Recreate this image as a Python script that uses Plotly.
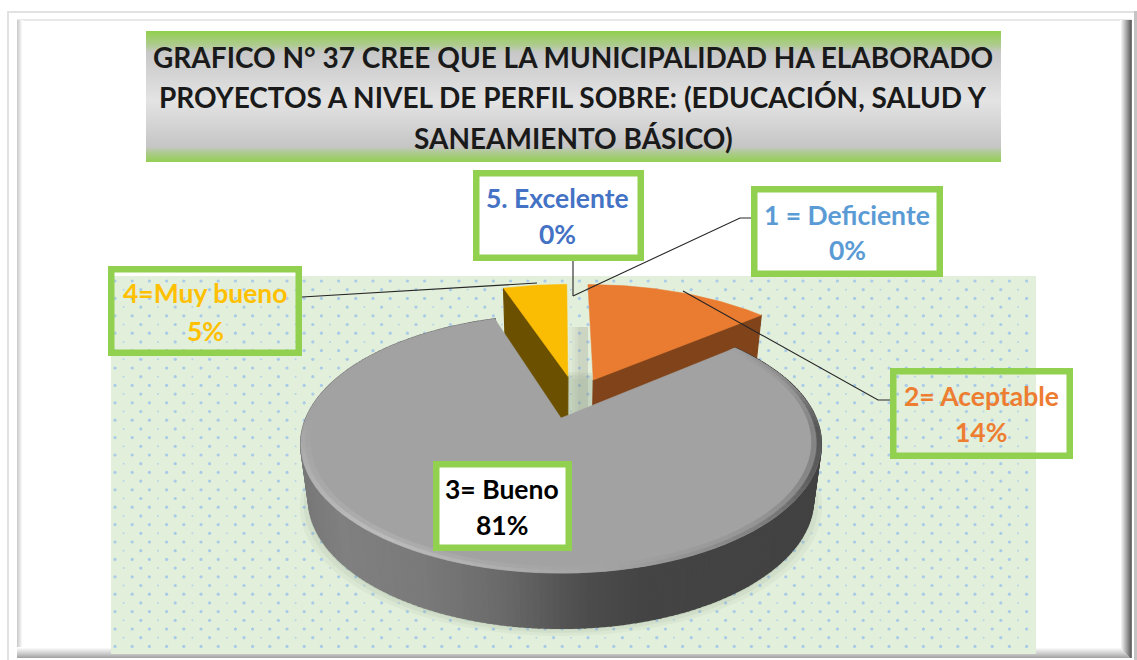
import numpy as np
import plotly.graph_objects as go

# ---------- data ----------
categories = ["1 = Deficiente", "2= Aceptable", "3= Bueno", "4=Muy bueno", "5. Excelente"]
percent_values = [0, 14, 81, 5, 0]
title_lines = [
    "GRAFICO N° 37 CREE QUE LA MUNICIPALIDAD HA ELABORADO",
    "PROYECTOS A NIVEL DE PERFIL SOBRE: (EDUCACIÓN, SALUD Y",
    "SANEAMIENTO BÁSICO)",
]
label_colors = ["#5b9bd5", "#ed7d31", "#000000", "#ffc000", "#4472c4"]
slice_colors = ["#5b9bd5", "#e97c30", "#a2a2a2", "#fbbc04", "#4472c4"]
wall_colors = ["#2e5f8a", "#80431a", "#555555", "#6b5000", "#24406f"]

W, H = 1137, 660
FONT = "Lato"
GREEN = "#92d050"

# ---------- projection of the pie plane onto the page ----------
CX, CY, RX, RY, PERSP = 561.0, 418.0, 254.7, 123.8, 0.2016
DEPTH, BOTTOM_SCALE = 55.0, 0.97
# per slice: planar shift (right, away) and radius scale
explode = {1: (0.135, 0.327, 1.05), 2: (0.0, 0.0, 1.0), 3: (0.029, 0.36, 1.02)}


def project(u, v):
    w = 1 + PERSP * np.asarray(v, dtype=float)
    return CX + RX * np.asarray(u) / w, CY - RY * np.asarray(v) / w


def rim(theta, ex=(0, 0, 1), rad=1.0):
    t = np.radians(theta)
    return project(ex[0] + ex[2] * rad * np.sin(t), ex[1] + ex[2] * rad * np.cos(t))


def lower(x, y):
    return CX + (np.asarray(x) - CX) * BOTTOM_SCALE, np.asarray(y) + DEPTH


total = sum(percent_values)
spans = {}
start = 0.0
for i, val in enumerate(percent_values):
    spans[i] = (start, start + 360.0 * val / total)
    start = spans[i][1]

fig = go.Figure()


def poly(x, y, color, lw=1.2):
    fig.add_trace(go.Scatter(x=list(x), y=list(y), mode="lines", fill="toself", fillcolor=color,
                             line=dict(color=color, width=lw), hoverinfo="skip", showlegend=False))


# ---------- shapes: frame, panel, title band ----------
shapes = []


def rect(x0, y0, x1, y1, color, layer="below", line=None, lw=0):
    shapes.append(dict(type="rect", xref="x", yref="y", x0=x0, y0=y0, x1=x1, y1=y1, fillcolor=color,
                       line=dict(color=line or color, width=lw), layer=layer))


def grey(v):
    v = int(round(v))
    return f"rgb({v},{v},{v})"


# outer frame
rect(7, 11, 1136, 13, "#e2e2e2")
rect(7, 11, 9, 660, "#e2e2e2")
rect(1134, 11, 1137, 660, "#c4c4c4")
# inner bevel
rect(17, 19, 1132, 21, "#e9e9e9")
for k in range(6):
    rect(17 + k, 20, 18 + k, 655, grey(np.interp(k, [0, 5], [205, 255])))
for k in range(12):
    rect(1120 + k, 20, 1121 + k, 658, grey(np.interp(k, [0, 7, 10, 11], [255, 150, 100, 120])))
for k in range(11):
    rect(17, 647 + k, 1120 + k, 648 + k, grey(np.interp(k, [0, 6, 10], [255, 205, 165])))

# dotted panel
rect(111, 276, 1036, 654, "#e2efda")
# title band
for yy in range(31, 162):
    c = np.interp(yy, [31, 45, 52, 100, 146, 152, 162],
                  [0, 0.55, 1, 1, 1, 0.55, 0])
    g = np.interp(yy, [31, 52, 100, 146, 162], [200, 200, 228, 198, 198])
    col = np.array([146, 208, 80]) * (1 - c) + g * c
    rect(146, yy, 1001, yy + 1, "rgb(%d,%d,%d)" % tuple(col))

# panel dots, drawn as markers on the page axes
big_x, big_y, small_x, small_y = [], [], [], []
for r, yy in enumerate(np.arange(281, 654, 8.7)):
    off = 0 if r % 2 == 0 else 8.6
    xs = np.arange(115 + off, 1034, 17.2)
    if r % 2 == 0:
        big_x += list(xs); big_y += [yy] * len(xs)
    else:
        small_x += list(xs[::2]); small_y += [yy] * len(xs[::2])
        big_x += list(xs[1::2]); big_y += [yy] * len(xs[1::2])
fig.add_trace(go.Scatter(x=big_x, y=big_y, mode="markers", hoverinfo="skip", showlegend=False,
                         marker=dict(size=3.2, color="#a9cbe8", line=dict(width=0))))
fig.add_trace(go.Scatter(x=small_x, y=small_y, mode="markers", hoverinfo="skip", showlegend=False,
                         marker=dict(size=2, color="#b7d3ea", line=dict(width=0))))

# ---------- the pie, computed from percent_values ----------
gray_span = spans[2]

# soft shadow under the pie
ang = np.linspace(0, 360, 181)
for grow, dy, alpha in [(1.035, 8, 0.06), (1.02, 5, 0.08), (1.005, 2, 0.10)]:
    sx, sy = rim(ang, rad=1.0)
    sx, sy = lower(sx, sy)
    poly(CX + (sx - CX) * grow, sy + dy, f"rgba(110,130,100,{alpha})", lw=0)

# shadow in the gap between the raised slices
for k, a in enumerate([0.05, 0.07, 0.09, 0.11]):
    poly([569 + k * 3, 588, 588, 569 + k * 3, 569 + k * 3], [327, 327, 412, 412, 327],
         f"rgba(150,155,140,{a})", lw=0)

# raised slices: cut walls, then top faces
for idx in (3, 1):
    if percent_values[idx] == 0:
        continue
    a0, a1 = spans[idx]
    ex = explode[idx]
    ax, ay = project(ex[0], ex[1])
    wall_angle = a1 if idx == 1 else a0
    ex_x, ex_y = rim(np.array([wall_angle]), ex)
    lx, ly = lower(ex_x, ex_y)
    alx, aly = lower(ax, ay)
    poly([ax, ex_x[0], lx[0], float(alx), ax], [ay, ex_y[0], ly[0], float(aly), ay], wall_colors[idx])
    th = np.linspace(a0, a1, 40)
    rx, ry = rim(th, ex)
    poly([ax, *rx, ax], [ay, *ry, ay], slice_colors[idx], lw=0.5)

# large slice: side strips with a left-to-right shade
side_angles = np.linspace(gray_span[0], gray_span[1], 241)
sx_t, sy_t = rim(side_angles)
sx_b, sy_b = lower(sx_t, sy_t)
for i in range(len(side_angles) - 1):
    xm = (sx_t[i] + sx_t[i + 1]) / 2
    shade = np.interp(xm, [300, 340, 420, 500, 580, 640, 820], [120, 128, 122, 106, 78, 68, 66])
    poly([sx_t[i], sx_t[i + 1], sx_b[i + 1], sx_b[i], sx_t[i]],
         [sy_t[i], sy_t[i + 1], sy_b[i + 1], sy_b[i], sy_t[i]], grey(shade), lw=2)

# large slice: top face
edge_angles = np.linspace(gray_span[0], gray_span[1], 121)
tx, ty = rim(edge_angles)
ax, ay = project(0.0, 0.0)
poly([ax, *tx, ax], [ay, *ty, ay], slice_colors[2], lw=0.5)


# large slice: bevel along the rim, two soft steps
def bevel(am):
    return np.interp(am, [50, 75, 95, 115, 140, 170, 215, 250, 270, 342],
                     [162, 135, 85, 92, 130, 162, 188, 175, 162, 162])


for rad_in, rad_out, mix in [(0.965, 0.985, 0.4), (0.985, 1.0, 1.0)]:
    ix, iy = rim(edge_angles, rad=rad_in)
    ox, oy = rim(edge_angles, rad=rad_out)
    for i in range(len(edge_angles) - 1):
        am = (edge_angles[i] + edge_angles[i + 1]) / 2
        shade = 162 + (bevel(am) - 162) * mix
        poly([ox[i], ox[i + 1], ix[i + 1], ix[i], ox[i]],
             [oy[i], oy[i + 1], iy[i + 1], iy[i], oy[i]], grey(shade), lw=0.6)

# ---------- leader lines ----------
leaders = [
    ([302, 537], [297, 283]),
    ([573, 573], [261, 296]),
    ([751, 740, 573], [218, 218, 296]),
    ([890, 878, 683], [400, 400, 291]),
]
for lx_, ly_ in leaders:
    fig.add_trace(go.Scatter(x=lx_, y=ly_, mode="lines", line=dict(color="#262626", width=1.1),
                             hoverinfo="skip", showlegend=False))

# ---------- label boxes ----------
# index -> outer box (x0, y0, x1, y1), white fill?, text centre x, line centres y
boxes = {
    0: (751, 186, 943, 277, True, 847, 215, 250),
    1: (890, 368, 1073, 459, False, 981, 396, 432),
    2: (433, 461, 572, 551, True, 502, 489, 525),
    3: (108, 266, 302, 356, False, 205, 293, 331),
    4: (473, 170, 644, 261, True, 557, 198, 234),
}
BORDER = 6.5
annotations = []
for i, (x0, y0, x1, y1, filled, tx_c, y1_c, y2_c) in boxes.items():
    shapes.append(dict(type="rect", xref="x", yref="y", x0=x0 + BORDER / 2, y0=y0 + BORDER / 2,
                       x1=x1 - BORDER / 2, y1=y1 - BORDER / 2,
                       fillcolor="#ffffff" if filled else "rgba(0,0,0,0)",
                       line=dict(color=GREEN, width=BORDER), layer="above"))
    for txt, yc in ((categories[i], y1_c), (f"{percent_values[i]}%", y2_c)):
        annotations.append(dict(x=tx_c, y=yc, xref="x", yref="y", text=f"<b>{txt}</b>", showarrow=False,
                                xanchor="center", yanchor="middle",
                                font=dict(family=FONT, size=26.5, color=label_colors[i])))

for line, yc in zip(title_lines, (57, 97, 138)):
    annotations.append(dict(x=573, y=yc, xref="x", yref="y", text=f"<b>{line}</b>", showarrow=False,
                            xanchor="center", yanchor="middle",
                            font=dict(family=FONT, size=28, color="#1a1a1a")))

fig.update_layout(
    width=W, height=H, autosize=False,
    margin=dict(l=0, r=0, t=0, b=0),
    paper_bgcolor="#ffffff", plot_bgcolor="#ffffff",
    xaxis=dict(range=[0, W], visible=False, fixedrange=True),
    yaxis=dict(range=[H, 0], visible=False, fixedrange=True),
    shapes=shapes, annotations=annotations, showlegend=False,
)
fig.write_html("out.html", config={"displayModeBar": False},
               post_script="document.body.style.margin='0';document.body.style.overflow='hidden';")
